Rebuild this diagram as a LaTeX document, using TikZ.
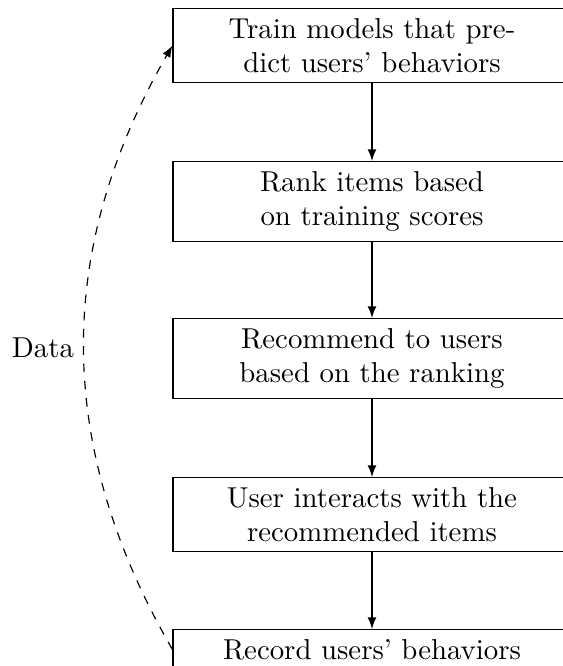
\documentclass[tikz,border=0pt]{standalone}
\usetikzlibrary{arrows}
\begin{document}
\begin{tikzpicture}[x=0.3472pt,y=0.3472pt,
  stepbox/.style={draw, align=center, minimum width=138.2pt, anchor=north},
  flow/.style={-latex}]
\clip (0,0) rectangle (563,666);
\node[stepbox] (b1) at (372,658) {Train models that pre-\\dict users' behaviors};
\node[stepbox] (b2) at (372,505) {Rank items based\\on training scores};
\node[stepbox] (b3) at (372,348) {Recommend to users\\based on the ranking};
\node[stepbox] (b4) at (372,189) {User interacts with the\\recommended items};
\node[stepbox] (b5) at (372,37) {Record users' behaviors};
\draw[flow] (b1) -- (b2);
\draw[flow] (b2) -- (b3);
\draw[flow] (b3) -- (b4);
\draw[flow] (b4) -- (b5);
\draw[flow, dashed] (b5.west) to[bend left=30] node[midway, left] {Data} (b1.west);
\end{tikzpicture}
\end{document}
